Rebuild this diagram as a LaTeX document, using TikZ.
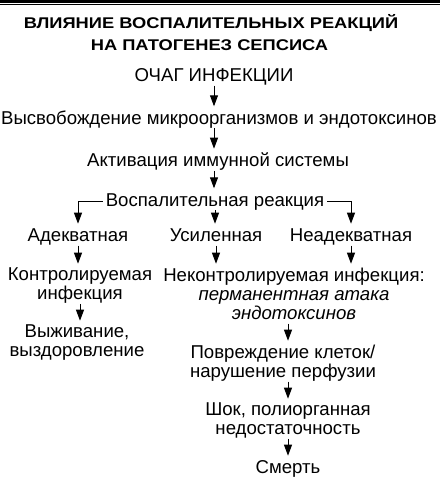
\documentclass[tikz,border=0pt]{standalone}
\usepackage{fontspec}
\setmainfont{Liberation Sans}
\newfontfamily\titlefont[FakeStretch=1.18]{Liberation Sans}
\usetikzlibrary{arrows.meta}
\newcommand{\lnstrut}{\rule[-4pt]{0pt}{17.6pt}}
\tikzstyle{titleText}=[anchor=base, inner sep=0pt, font=\titlefont\fontsize{15.5}{18}\selectfont\bfseries]
\tikzstyle{flowText}=[anchor=north, inner sep=0pt, align=center,
  font=\fontsize{18.6}{19}\selectfont,
  execute at begin node=\lnstrut, execute at end node=\lnstrut]
\tikzstyle{downArrow}=[line width=1pt, -{Triangle[length=11pt,width=8pt]}, shorten >=4pt]
\newcommand{\arr}[2]{\draw[downArrow] (#1) -- (#2)}

\begin{document}
\begin{tikzpicture}[x=1pt,y=-1pt]
  \useasboundingbox (0,0) rectangle (440,479);
  % double rule on top
  \draw[line width=2.6pt] (0,1.3) -- (440,1.3);
  \draw[line width=0.8pt] (0,4.6) -- (440,4.6);
  \node[titleText] (t1) at (211,28.2) {ВЛИЯНИЕ ВОСПАЛИТЕЛЬНЫХ РЕАКЦИЙ};
  \node[titleText] (t2) at (209.5,50.2) {НА ПАТОГЕНЕЗ СЕПСИСА};
  % main column
  \node[flowText] (och) at (214,67.7) {ОЧАГ ИНФЕКЦИИ};
  \node[flowText] (vys) at (219,110.3) {Высвобождение микроорганизмов и эндотоксинов};
  \node[flowText] (akt) at (218,152.7) {Активация иммунной системы};
  \node[flowText, inner xsep=3pt] (vos) at (215,192.3) {Воспалительная реакция};
  % three branches
  \node[flowText] (ade) at (78,227.7) {Адекватная};
  \node[flowText] (usi) at (216,227.7) {Усиленная};
  \node[flowText] (nea) at (351,227.7) {Неадекватная};
  \node[flowText] (kon) at (80,267.7) {Контролируемая\\инфекция};
  \node[flowText] (vyzh) at (77,324.7) {Выживание,\\выздоровление};
  \node[flowText] (nek) at (294,267.7) {Неконтролируемая инфекция:\\\textit{перманентная атака}\\\textit{эндотоксинов}};
  \node[flowText] (pov) at (283,344.7) {Повреждение клеток/\\нарушение перфузии};
  \node[flowText] (shok) at (288,402.7) {Шок, полиорганная\\недостаточность};
  \node[flowText] (smert) at (288,459.7) {Смерть};
  % connectors
  \arr{och.south}{och.south |- vys.north};
  \arr{vys.south -| och.south}{och.south |- akt.north};
  \arr{akt.south -| och.south}{och.south |- vos.north};
  \arr{vos.south}{vos.south |- usi.north};
  \draw[downArrow] (vos.west) -| (ade.north);
  \draw[downArrow] (vos.east) -| (nea.north);
  \arr{ade.south}{ade.south |- kon.north};
  \arr{usi.south}{usi.south |- nek.north};
  \arr{nea.south}{nea.south |- nek.north};
  \arr{kon.south}{kon.south |- vyzh.north};
  \arr{nek.south -| smert}{smert |- pov.north};
  \arr{pov.south -| smert}{smert |- shok.north};
  \arr{shok.south -| smert}{smert.north};
\end{tikzpicture}
\end{document}
